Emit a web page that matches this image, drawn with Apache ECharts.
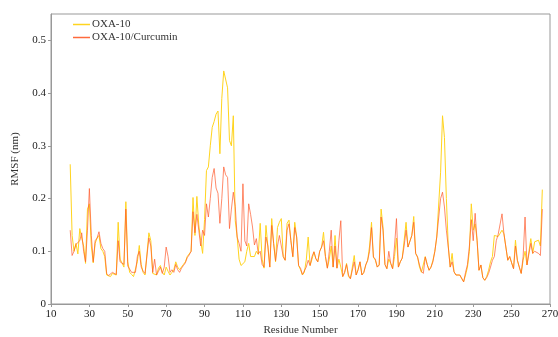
<!DOCTYPE html>
<html>
<head>
<meta charset="utf-8">
<script src="https://cdn.jsdelivr.net/npm/echarts@6/dist/echarts.min.js"></script>
<style>html,body{margin:0;padding:0;background:#fff}#c{width:558px;height:337px}</style>
</head>
<body>
<div id="c"></div>
<script>
// Residue numbers 20..266
const startResidue = 20;
const oxa10 = [
0.265,0.13,0.1,0.115,0.095,0.143,0.125,0.11,0.077,0.18,
0.19,0.11,0.078,0.115,0.125,0.13,0.105,0.1,0.09,0.055,
0.053,0.052,0.058,0.06,0.055,0.155,0.085,0.078,0.07,0.194,
0.08,0.06,0.056,0.052,0.055,0.08,0.111,0.075,0.06,0.055,
0.056,0.135,0.12,0.058,0.06,0.055,0.068,0.073,0.06,0.055,
0.07,0.062,0.055,0.06,0.065,0.08,0.07,0.065,0.07,0.075,
0.08,0.09,0.095,0.1,0.202,0.13,0.204,0.15,0.12,0.096,
0.16,0.253,0.26,0.3,0.335,0.346,0.36,0.366,0.285,0.39,
0.442,0.44,0.41,0.31,0.30,0.357,0.158,0.127,0.085,0.073,
0.075,0.08,0.1,0.115,0.09,0.09,0.09,0.1,0.094,0.153,
0.085,0.068,0.149,0.152,0.07,0.162,0.115,0.08,0.145,0.155,
0.162,0.09,0.083,0.153,0.159,0.12,0.089,0.155,0.127,0.073,
0.065,0.055,0.06,0.083,0.127,0.073,0.085,0.099,0.086,0.08,
0.1,0.108,0.136,0.09,0.068,0.085,0.11,0.07,0.13,0.068,
0.085,0.07,0.052,0.06,0.077,0.052,0.048,0.05,0.092,0.055,
0.065,0.08,0.055,0.06,0.074,0.083,0.11,0.155,0.089,0.083,
0.07,0.074,0.18,0.146,0.075,0.067,0.085,0.077,0.067,0.09,
0.125,0.07,0.08,0.087,0.12,0.155,0.108,0.11,0.13,0.166,
0.096,0.089,0.07,0.06,0.058,0.09,0.075,0.064,0.07,0.083,
0.1,0.127,0.124,0.25,0.357,0.316,0.2,0.11,0.07,0.096,
0.061,0.055,0.058,0.055,0.055,0.042,0.055,0.07,0.1,0.19,
0.14,0.152,0.121,0.064,0.074,0.05,0.045,0.052,0.064,0.08,
0.09,0.13,0.127,0.128,0.126,0.14,0.133,0.133,0.083,0.09,
0.078,0.067,0.121,0.083,0.07,0.058,0.083,0.1,0.074,0.077,
0.124,0.096,0.118,0.115,0.121,0.11,0.217
];
const oxa10Curcumin = [
0.14,0.092,0.1,0.113,0.115,0.12,0.135,0.1,0.08,0.14,
0.219,0.13,0.08,0.12,0.125,0.137,0.115,0.105,0.1,0.058,
0.054,0.052,0.06,0.062,0.056,0.12,0.08,0.08,0.075,0.18,
0.072,0.07,0.06,0.058,0.06,0.09,0.1,0.07,0.062,0.058,
0.057,0.125,0.11,0.06,0.085,0.055,0.062,0.07,0.058,0.07,
0.108,0.09,0.06,0.065,0.06,0.075,0.065,0.06,0.068,0.073,
0.078,0.088,0.093,0.1,0.175,0.135,0.17,0.14,0.11,0.14,
0.13,0.19,0.165,0.2,0.24,0.257,0.22,0.21,0.153,0.2,
0.26,0.245,0.24,0.143,0.18,0.212,0.185,0.127,0.115,0.1,
0.228,0.12,0.11,0.19,0.17,0.146,0.112,0.124,0.095,0.1,
0.075,0.07,0.127,0.11,0.07,0.149,0.115,0.082,0.11,0.13,
0.133,0.09,0.083,0.14,0.152,0.12,0.09,0.145,0.127,0.073,
0.068,0.056,0.055,0.07,0.083,0.073,0.09,0.099,0.086,0.08,
0.1,0.108,0.12,0.09,0.068,0.1,0.14,0.07,0.11,0.068,
0.12,0.158,0.052,0.06,0.075,0.055,0.048,0.05,0.08,0.055,
0.065,0.08,0.055,0.06,0.074,0.083,0.1,0.145,0.089,0.085,
0.07,0.074,0.165,0.14,0.075,0.067,0.1,0.077,0.067,0.11,
0.162,0.07,0.08,0.087,0.11,0.14,0.108,0.11,0.13,0.155,
0.096,0.089,0.074,0.062,0.058,0.089,0.075,0.064,0.07,0.08,
0.1,0.127,0.124,0.2,0.212,0.184,0.14,0.108,0.07,0.08,
0.061,0.055,0.058,0.055,0.055,0.042,0.06,0.075,0.11,0.16,
0.12,0.172,0.121,0.064,0.074,0.05,0.045,0.05,0.058,0.07,
0.083,0.09,0.12,0.132,0.132,0.171,0.133,0.133,0.083,0.09,
0.078,0.067,0.11,0.083,0.07,0.058,0.09,0.165,0.074,0.077,
0.115,0.096,0.1,0.1,0.096,0.092,0.18
];
const xTicks = [10,30,50,70,90,110,130,150,170,190,210,230,250,270];
const yTicks = [0,0.1,0.2,0.3,0.4,0.5];
const seriesNames = ['OXA-10','OXA-10/Curcumin'];

const toPairs = arr => arr.map((v,i)=>[startResidue+i, v]);
const font = 'Liberation Serif';
const chart = echarts.init(document.getElementById('c'), null, {renderer:'canvas'});
chart.setOption({
  animation:false,
  backgroundColor:'#fff',
  grid:{left:51,right:8,top:14,bottom:33,show:true,borderColor:'#999',borderWidth:1,
        containLabel:false,outerBoundsMode:'none'},
  legend:{
    left:68,top:14,orient:'vertical',itemGap:2,itemWidth:17,itemHeight:1.5,icon:'rect',
    textStyle:{fontFamily:font,fontSize:11,color:'#333',padding:[0,0,0,-3]},
    data:seriesNames
  },
  xAxis:{
    type:'value',min:10,max:270,
    name:'Residue Number',nameLocation:'middle',nameGap:20,
    nameTextStyle:{fontFamily:font,fontSize:11,color:'#333'},
    axisLine:{show:true,lineStyle:{color:'#999'}},
    axisTick:{show:true,length:3,lineStyle:{color:'#999'},customValues:xTicks},
    axisLabel:{fontFamily:font,fontSize:11,color:'#222',margin:5,customValues:xTicks},
    splitLine:{show:false}
  },
  yAxis:{
    type:'value',min:0,max:0.55,
    name:'RMSF (nm)',nameLocation:'middle',nameGap:30,
    nameTextStyle:{fontFamily:font,fontSize:11,color:'#333'},
    axisLine:{show:true,lineStyle:{color:'#999'}},
    axisTick:{show:true,length:3,lineStyle:{color:'#999'},customValues:yTicks},
    axisLabel:{fontFamily:font,fontSize:11,color:'#222',margin:5,customValues:yTicks,
      formatter:v=>String(Math.round(v*10)/10)},
    splitLine:{show:false}
  },
  series:[
    {name:seriesNames[0],type:'line',data:toPairs(oxa10),showSymbol:false,symbol:'none',
     lineStyle:{color:'#FFD41F',width:1},itemStyle:{color:'#FFD41F'}},
    {name:seriesNames[1],type:'line',data:toPairs(oxa10Curcumin),showSymbol:false,symbol:'none',
     lineStyle:{color:'#FF5A2C',width:1,opacity:0.7},itemStyle:{color:'#FF6A3C'}}
  ]
});
</script>
</body>
</html>
